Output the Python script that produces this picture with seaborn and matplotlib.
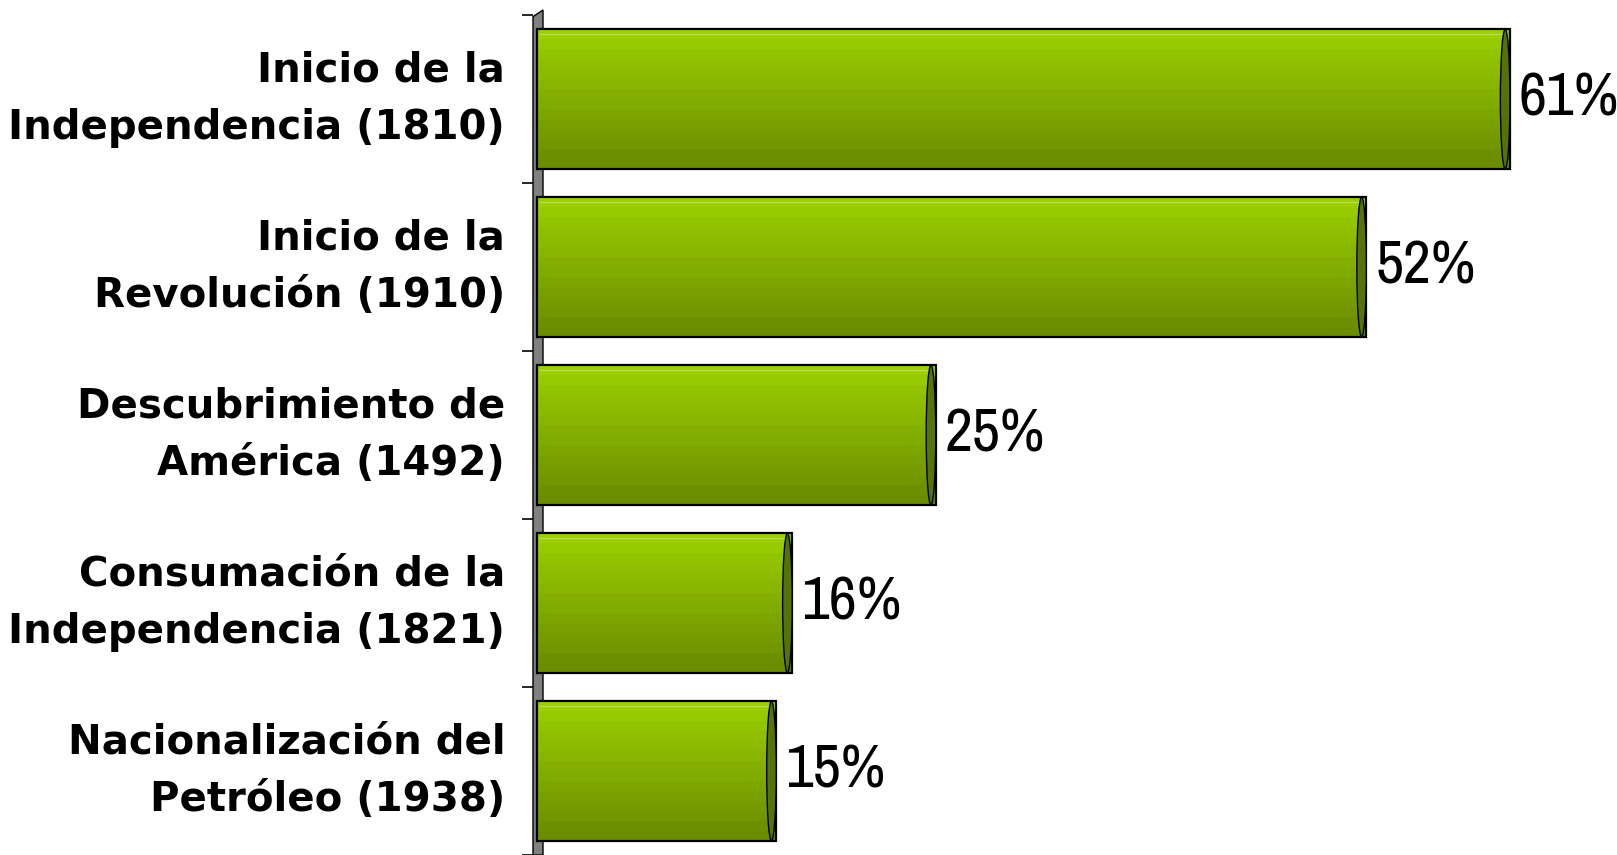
import numpy as np
import matplotlib
matplotlib.use('Agg')
import matplotlib.pyplot as plt
import seaborn as sns
from matplotlib import font_manager
from matplotlib.colors import LinearSegmentedColormap
from matplotlib.patches import Ellipse, Polygon

# Datos
categorias = ['Inicio de la\nIndependencia (1810)',
              'Inicio de la\nRevolución (1910)',
              'Descubrimiento de\nAmérica (1492)',
              'Consumación de la\nIndependencia (1821)',
              'Nacionalización del\nPetróleo (1938)']
valores = [61, 52, 25, 16, 15]
etiquetas = ['61%', '52%', '25%', '16%', '15%']

sns.set_style('white')
plt.rcParams['font.family'] = ['DejaVu Sans']

# fuente estrecha para los porcentajes, si hay alguna instalada
estrechas = [f for f in font_manager.fontManager.ttflist
             if ('Narrow' in f.name or 'Condensed' in f.name or str(f.stretch) == 'condensed')
             and f.weight in (400, 'normal', 'regular') and f.style == 'normal']
estrechas.sort(key=lambda f: (0 if 'Liberation' in f.name else 1, f.name))
if estrechas:
    fp_val = font_manager.FontProperties(fname=estrechas[0].fname, size=44)
else:
    fp_val = font_manager.FontProperties(family='DejaVu Sans', size=36)

W, H = 1617, 855
fig = plt.figure(figsize=(W / 100, H / 100), dpi=100)
ax_left = 533
ax = fig.add_axes([ax_left / W, 0, 1 - ax_left / W, 840 / H])

sns.barplot(x=valores, y=categorias, orient='h', color='#8fbf00',
            edgecolor='black', linewidth=1.6, width=0.83, ax=ax)

px_per_unit = 15.95
xlim = (-4 / px_per_unit, (W - 537) / px_per_unit)

# gradiente de las barras
cmap = LinearSegmentedColormap.from_list('verde', ['#9bcf00', '#6a8c00'])
grad = np.linspace(0, 1, 14).reshape(-1, 1)
for p in ax.patches:
    x0, y0, w, h = p.get_x(), p.get_y(), p.get_width(), p.get_height()
    im = ax.imshow(grad, cmap=cmap, aspect='auto', origin='upper',
                   extent=(x0, x0 + w, y0 + h, y0), zorder=2,
                   interpolation='nearest')
    im.set_clip_path(p)
    p.set_facecolor('none')
    p.set_zorder(3)
    # tapa del cilindro
    cap = Ellipse((x0 + w - 0.3, y0 + h / 2), width=0.6, height=h,
                  facecolor='#56730a', edgecolor='black', lw=1.0, zorder=4)
    ax.add_patch(cap)
    cap.set_clip_path(p)
    # brillo superior
    ax.plot([x0 + 0.1, x0 + w - 0.4], [y0 + 0.03, y0 + 0.03],
            color='#b8dc5a', lw=1, zorder=3)

ax.set_xlim(*xlim)
ax.set_ylim(4.5, -0.5)

# etiquetas de valor
for i, (v, t) in enumerate(zip(valores, etiquetas)):
    ax.text(v + 0.55, i, t, va='center', ha='left', fontproperties=fp_val,
            color='black')

# pared gris
wall = Polygon([(0, 0), (0, 0.998), (10 / 1084, 1.006), (10 / 1084, 0)],
               closed=True, transform=ax.transAxes, facecolor='#808080',
               edgecolor='black', lw=1.0, clip_on=False, zorder=1)
ax.add_patch(wall)

for s in ['top', 'right', 'bottom', 'left']:
    ax.spines[s].set_visible(False)

ax.set_xticks([])
ax.set_yticks(np.arange(-0.5, 5, 1), minor=True)
ax.tick_params(axis='y', which='minor', length=8, width=1.2, color='black',
               direction='out', left=True)
ax.tick_params(axis='y', which='major', length=0, pad=20)
ax.set_yticks(range(len(categorias)))
ax.set_yticklabels(categorias, fontsize=29, fontweight='bold',
                   linespacing=1.58, color='black')
for lbl in ax.get_yticklabels():
    lbl.set_va('center')
ax.set_xlabel('')
ax.set_ylabel('')

fig.savefig('out.png', dpi=100)
